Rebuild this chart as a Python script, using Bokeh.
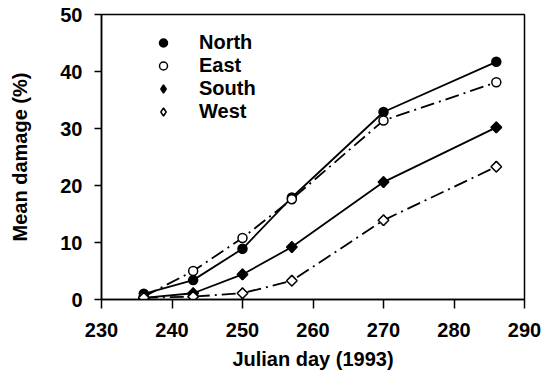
import math
from bokeh.plotting import figure
from bokeh.models import Legend, LegendItem, Range1d, FixedTicker
from bokeh.embed import file_html
from bokeh.resources import INLINE

days = [236, 243, 250, 257, 270, 286]
north = [1.0, 3.4, 8.9, 17.9, 32.9, 41.7]
east = [0.5, 5.0, 10.8, 17.6, 31.4, 38.1]
south = [0.3, 1.1, 4.4, 9.2, 20.6, 30.2]
west = [0.3, 0.5, 1.1, 3.3, 13.9, 23.3]
series_names = ["North", "East", "South", "West"]
x_ticks = [230, 240, 250, 260, 270, 280, 290]
y_ticks = [0, 10, 20, 30, 40, 50]

FONT = "Liberation Sans"

p = figure(width=542, height=380, output_backend="svg", toolbar_location=None,
           x_range=Range1d(230, 290), y_range=Range1d(0, 50),
           min_border_left=101, min_border_right=18, min_border_top=14,
           min_border_bottom=81)
p.grid.visible = False
p.outline_line_color = "black"
p.outline_line_width = 1.5
p.background_fill_color = "white"
p.border_fill_color = "white"

for ax in (p.xaxis[0], p.yaxis[0]):
    ax.axis_line_color = "black"
    ax.axis_line_width = 1.5
    ax.major_tick_line_color = "black"
    ax.major_tick_line_width = 1.5
    ax.major_tick_in = 0
    ax.minor_tick_line_color = None
    ax.major_label_text_font = FONT
    ax.major_label_text_font_style = "bold"
    ax.major_label_text_font_size = "20px"
    ax.major_label_text_color = "black"
    ax.axis_label_text_font = FONT
    ax.axis_label_text_font_style = "bold"
    ax.axis_label_text_font_size = "20px"
    ax.axis_label_text_color = "black"

p.xaxis.ticker = FixedTicker(ticks=x_ticks)
p.yaxis.ticker = FixedTicker(ticks=y_ticks)
p.xaxis.major_tick_out = 9
p.yaxis.major_tick_out = 7
p.xaxis.major_label_standoff = 14
p.yaxis.major_label_standoff = 12
p.xaxis.axis_label = "Julian day (1993)"
p.yaxis.axis_label = "Mean damage (%)"
p.xaxis.axis_label_standoff = 8
p.yaxis.axis_label_standoff = 26

styles = [
    (north, "solid", "circle", "black", 9, 0.0, "circle", 7),
    (east, "14 5 2 5", "circle", "white", 9, 0.0, "circle", 7),
    (south, "solid", "square", "black", 7.5, math.pi / 4, "diamond", 10.5),
    (west, "14 5 2 5", "square", "white", 7.5, math.pi / 4, "diamond", 10.5),
]

for vals, dash, marker, fill, size, ang, lm, ls in styles:
    p.line(days, vals, line_color="black", line_width=1.8, line_dash=dash)

# legend-only glyphs, drawn beneath the real markers (fully covered by them)
items = []
for name, (vals, dash, marker, fill, size, ang, lm, ls) in zip(series_names, styles):
    lr = p.scatter(days, vals, marker=lm, size=ls, fill_color=fill,
                   line_color="black", line_width=1.5)
    items.append(LegendItem(label=name, renderers=[lr]))

for vals, dash, marker, fill, size, ang, lm, ls in styles:
    p.scatter(days, vals, marker=marker, size=size, angle=ang,
              fill_color=fill, line_color="black", line_width=1.5)

legend = Legend(items=items, location=(52, 176))
legend.background_fill_alpha = 0
legend.border_line_alpha = 0
legend.padding = 0
legend.spacing = 0
legend.glyph_width = 20
legend.glyph_height = 23
legend.label_height = 23
legend.label_standoff = 26
legend.label_text_font = FONT
legend.label_text_font_style = "bold"
legend.label_text_font_size = "20px"
legend.label_text_color = "black"
p.add_layout(legend)

open("out.html", "w").write(file_html(p, INLINE))
